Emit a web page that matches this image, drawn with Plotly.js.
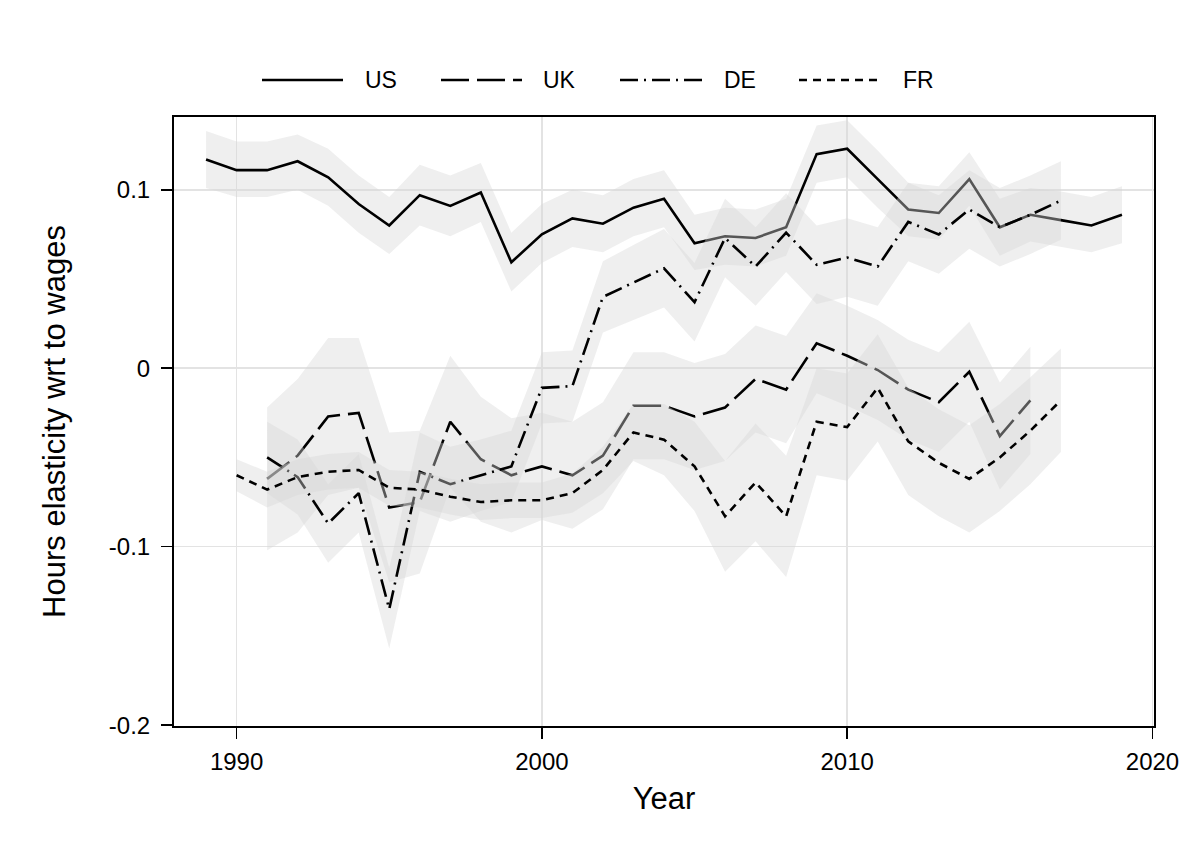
<!DOCTYPE html>
<html>
<head>
<meta charset="utf-8">
<script src="https://cdn.plot.ly/plotly-3.0.1.min.js"></script>
<style>
  html, body { margin: 0; padding: 0; background: #ffffff; }
  #chart { width: 1186px; height: 865px; }
</style>
</head>
<body>
<div id="chart"></div>
<script>
// Hours elasticity with respect to wages, by country, with confidence bands

const yearsUS = [1989,1990,1991,1992,1993,1994,1995,1996,1997,1998,1999,2000,2001,2002,2003,2004,2005,2006,2007,2008,2009,2010,2011,2012,2013,2014,2015,2016,2017,2018,2019];
const estUS   = [0.117,0.111,0.111,0.116,0.107,0.092,0.080,0.097,0.091,0.0985,0.0594,0.075,0.084,0.081,0.090,0.095,0.070,0.074,0.073,0.079,0.120,0.123,0.106,0.089,0.087,0.106,0.079,0.086,0.083,0.080,0.086];
const hiUS    = [0.133,0.127,0.127,0.131,0.123,0.108,0.096,0.114,0.108,0.115,0.076,0.092,0.100,0.097,0.106,0.111,0.086,0.090,0.089,0.095,0.136,0.139,0.122,0.104,0.102,0.121,0.095,0.101,0.099,0.096,0.102];
const loUS    = [0.101,0.096,0.096,0.100,0.091,0.076,0.064,0.080,0.074,0.082,0.043,0.059,0.068,0.065,0.074,0.079,0.055,0.058,0.057,0.063,0.104,0.107,0.090,0.074,0.072,0.091,0.063,0.071,0.068,0.065,0.070];

const yearsUK = [1991,1992,1993,1994,1995,1996,1997,1998,1999,2000,2001,2002,2003,2004,2005,2006,2007,2008,2009,2010,2011,2012,2013,2014,2015,2016];
const estUK   = [-0.062,-0.049,-0.027,-0.025,-0.078,-0.075,-0.030,-0.051,-0.060,-0.055,-0.060,-0.049,-0.021,-0.021,-0.027,-0.022,-0.006,-0.012,0.014,0.007,-0.001,-0.012,-0.019,-0.002,-0.038,-0.018];
const hiUK    = [-0.022,-0.006,0.017,0.017,-0.036,-0.035,0.007,-0.016,-0.028,-0.025,-0.030,-0.019,0.009,0.009,0.003,0.008,0.024,0.018,0.042,0.035,0.027,0.016,0.009,0.026,-0.008,0.012];
const loUK    = [-0.102,-0.092,-0.071,-0.067,-0.120,-0.115,-0.067,-0.086,-0.092,-0.085,-0.090,-0.079,-0.051,-0.051,-0.057,-0.052,-0.036,-0.042,-0.014,-0.021,-0.029,-0.040,-0.047,-0.030,-0.068,-0.048];

const yearsDE = [1991,1992,1993,1994,1995,1996,1997,1998,1999,2000,2001,2002,2003,2004,2005,2006,2007,2008,2009,2010,2011,2012,2013,2014,2015,2016,2017];
const estDE   = [-0.050,-0.061,-0.087,-0.070,-0.135,-0.058,-0.065,-0.060,-0.055,-0.011,-0.010,0.040,0.048,0.056,0.037,0.073,0.057,0.076,0.058,0.062,0.057,0.082,0.075,0.089,0.079,0.086,0.094];
const hiDE    = [-0.030,-0.040,-0.065,-0.048,-0.112,-0.036,-0.044,-0.040,-0.035,0.009,0.010,0.060,0.069,0.078,0.059,0.095,0.079,0.098,0.080,0.084,0.079,0.104,0.097,0.111,0.101,0.108,0.116];
const loDE    = [-0.070,-0.082,-0.109,-0.092,-0.157,-0.080,-0.086,-0.080,-0.075,-0.031,-0.030,0.020,0.027,0.034,0.015,0.051,0.035,0.054,0.036,0.040,0.035,0.060,0.053,0.067,0.057,0.064,0.072];

const yearsFR = [1990,1991,1992,1993,1994,1995,1996,1997,1998,1999,2000,2001,2002,2003,2004,2005,2006,2007,2008,2009,2010,2011,2012,2013,2014,2015,2016,2017];
const estFR   = [-0.060,-0.068,-0.061,-0.058,-0.057,-0.067,-0.068,-0.072,-0.075,-0.074,-0.074,-0.070,-0.057,-0.036,-0.040,-0.055,-0.083,-0.064,-0.083,-0.030,-0.033,-0.011,-0.041,-0.053,-0.062,-0.050,-0.035,-0.018];
const hiFR    = [-0.051,-0.058,-0.051,-0.048,-0.047,-0.057,-0.058,-0.062,-0.065,-0.064,-0.064,-0.059,-0.044,-0.020,-0.020,-0.030,-0.052,-0.031,-0.049,0.000,-0.003,0.019,-0.011,-0.023,-0.032,-0.020,-0.005,0.011];
const loFR    = [-0.069,-0.078,-0.071,-0.068,-0.067,-0.077,-0.078,-0.082,-0.085,-0.084,-0.084,-0.081,-0.070,-0.052,-0.060,-0.080,-0.114,-0.097,-0.117,-0.060,-0.063,-0.041,-0.071,-0.083,-0.092,-0.080,-0.065,-0.047];

const countryNames = ['US', 'UK', 'DE', 'FR'];
const xTickVals = [1990, 2000, 2010, 2020];
const yTickVals = [-0.2, -0.1, 0, 0.1];
const yTickText = ['-0.2', '-0.1', '0', '0.1'];

const FONT = '"Liberation Sans", Arial, Helvetica, sans-serif';
const BAND_FILL = 'rgba(215,215,215,0.4)';
const LINE_W = 2.6;

const series = [
  { name: 'US', x: yearsUS, y: estUS, hi: hiUS, lo: loUS, dash: 'solid' },
  { name: 'UK', x: yearsUK, y: estUK, hi: hiUK, lo: loUK, dash: '28px,8px' },
  { name: 'DE', x: yearsDE, y: estDE, hi: hiDE, lo: loDE, dash: '18px,6px,2px,6px' },
  { name: 'FR', x: yearsFR, y: estFR, hi: hiFR, lo: loFR, dash: '8px,6px' }
];

// Each country: translucent band first, then its line, so later bands tint earlier lines
const traces = [];
series.forEach(s => {
  traces.push({
    type: 'scatter', mode: 'lines',
    x: s.x.concat(s.x.slice().reverse()),
    y: s.hi.concat(s.lo.slice().reverse()),
    fill: 'toself', fillcolor: BAND_FILL,
    line: { width: 0 }, hoverinfo: 'skip', showlegend: false
  });
  traces.push({
    type: 'scatter', mode: 'lines', name: s.name,
    x: s.x, y: s.y,
    line: { color: '#000000', width: LINE_W, dash: s.dash },
    showlegend: false
  });
});

// Legend drawn as line samples + labels above the plot
const plotL = 174, plotR = 1154, plotT = 117, plotB = 726;
const px2x = p => (p - plotL) / (plotR - plotL);
const py2y = p => (plotB - p) / (plotB - plotT);
const legendY = py2y(80);
const legendSlots = [
  { x0: 262, x1: 343, tx: 363 },
  { x0: 441, x1: 522, tx: 541 },
  { x0: 620, x1: 702, tx: 722 },
  { x0: 799, x1: 881, tx: 901 }
];
const shapes = [];
const annotations = [];
series.forEach((s, i) => {
  const slot = legendSlots[i];
  shapes.push({
    type: 'line', xref: 'paper', yref: 'paper',
    x0: px2x(slot.x0), x1: px2x(slot.x1), y0: legendY, y1: legendY,
    line: { color: '#000000', width: LINE_W, dash: s.dash }
  });
  annotations.push({
    xref: 'paper', yref: 'paper', x: px2x(slot.tx), y: legendY,
    xanchor: 'left', yanchor: 'middle', showarrow: false,
    text: countryNames[i], font: { family: FONT, size: 23, color: '#000000' }
  });
});

const layout = {
  width: 1186, height: 865,
  margin: { l: plotL, r: 1186 - plotR, t: plotT, b: 865 - plotB, pad: 0 },
  paper_bgcolor: '#ffffff', plot_bgcolor: '#ffffff',
  font: { family: FONT, color: '#000000' },
  showlegend: false,
  xaxis: {
    range: [1987.95, 2020.05],
    tickmode: 'array', tickvals: xTickVals,
    ticks: 'outside', ticklen: 11, tickwidth: 1.5, tickcolor: '#000000',
    tickfont: { family: FONT, size: 24, color: '#000000' },
    ticklabelstandoff: 2,
    showgrid: true, gridcolor: '#e3e3e3', gridwidth: 1.5,
    showline: true, linecolor: '#000000', linewidth: 2, mirror: true,
    zeroline: false,
    title: { text: 'Year', font: { family: FONT, size: 31, color: '#000000' }, standoff: 14 }
  },
  yaxis: {
    range: [-0.2005, 0.1408],
    tickmode: 'array', tickvals: yTickVals, ticktext: yTickText,
    ticks: 'outside', ticklen: 11, tickwidth: 1.5, tickcolor: '#000000',
    tickfont: { family: FONT, size: 24, color: '#000000' },
    ticklabelstandoff: 6,
    showgrid: true, gridcolor: '#e3e3e3', gridwidth: 1.5,
    showline: true, linecolor: '#000000', linewidth: 2, mirror: true,
    zeroline: false,
    title: { text: 'Hours elasticity wrt to wages', font: { family: FONT, size: 31, color: '#000000' }, standoff: 34 }
  },
  shapes: shapes,
  annotations: annotations
};

Plotly.newPlot('chart', traces, layout, { displayModeBar: false, staticPlot: true });
</script>
</body>
</html>
